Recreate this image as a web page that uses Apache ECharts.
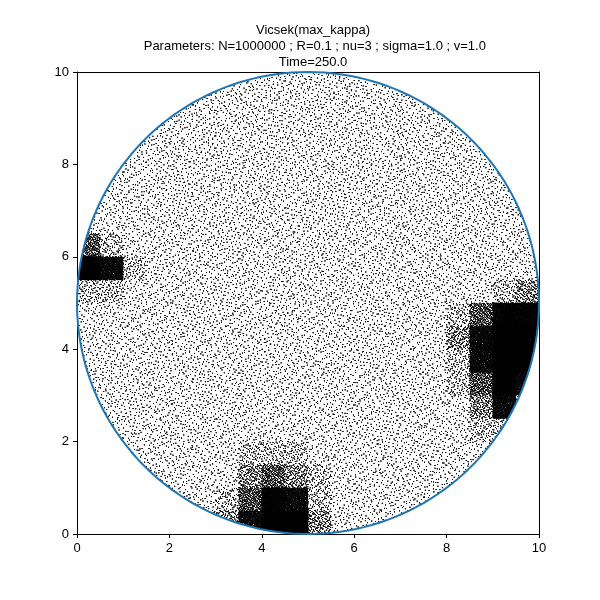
<!DOCTYPE html><html><head><meta charset="utf-8"><script src="https://cdn.jsdelivr.net/npm/echarts@6/dist/echarts.min.js"></script></head><body style="margin:0"><div id="c" style="width:600px;height:600px"></div><script>
// Density levels: 20x20 cells of 0.5 units, rows from y=10 (top) down to y=0
var densityRows=[
"22222222222222222222","22222222222222222222","22222222222222222222","22222222222222222222",
"22222222222222222222","22222222222222222222","22222222222222222222","53222222222222222222",
"97322222222222222222","33222222222222222234","22222222222222223588","22222222222222224799",
"22222222222222223799","22222222222222223597","22222222222222222473","22222222222222222332",
"22222223332222222222","22222224543222222222","22222235873222222222","22222347994222222222"];
var levelCounts=[0,25,45,90,170,300,480,750,1100,1600];
function halton(i,b){var f=1,r=0;while(i>0){f/=b;r+=f*(i%b);i=Math.floor(i/b);}return r;}
var pts=[],k=1;
densityRows.forEach(function(row,r){for(var c=0;c<20;c++){var n=levelCounts[+row[c]];for(var j=0;j<n;j++){k++;var x=0.5*c+0.5*halton(k,2),y=10-0.5*(r+1)+0.5*halton(k,3);if((x-5)*(x-5)+(y-5)*(y-5)<=25)pts.push([x,y]);}}});
var circ=[];for(var a=0;a<=360;a+=2){var t=a*Math.PI/180;circ.push([5+5*Math.cos(t),5+5*Math.sin(t)]);}
var ch=echarts.init(document.getElementById('c'));
var ax={min:0,max:10,interval:2,axisLine:{onZero:false,lineStyle:{color:'#000'}},axisTick:{lineStyle:{color:'#000'},length:4},axisLabel:{color:'#000',fontSize:13},splitLine:{show:false}};
var bx={min:0,max:10,axisLine:{onZero:false,lineStyle:{color:'#000'}},axisTick:{show:false},axisLabel:{show:false},splitLine:{show:false}};
ch.setOption({animation:false,
title:{text:'Vicsek(max_kappa)\n Parameters: N=1000000 ; R=0.1 ; nu=3 ; sigma=1.0 ; v=1.0\nTime=250.0',left:308,textAlign:'center',top:17,textStyle:{fontSize:13,fontWeight:'normal',color:'#000',lineHeight:16}},
grid:{left:77,right:61,top:72,bottom:66},
xAxis:[Object.assign({type:'value'},ax),Object.assign({type:'value',position:'top'},bx)],
yAxis:[Object.assign({type:'value'},ax),Object.assign({type:'value',position:'right'},bx)],
series:[{type:'scatter',data:pts,symbolSize:0.7,itemStyle:{color:'#000'},large:true,largeThreshold:1000,silent:true},
{type:'line',data:circ,showSymbol:false,lineStyle:{color:'#1f77b4',width:2},silent:true}]});
</script></body></html>
